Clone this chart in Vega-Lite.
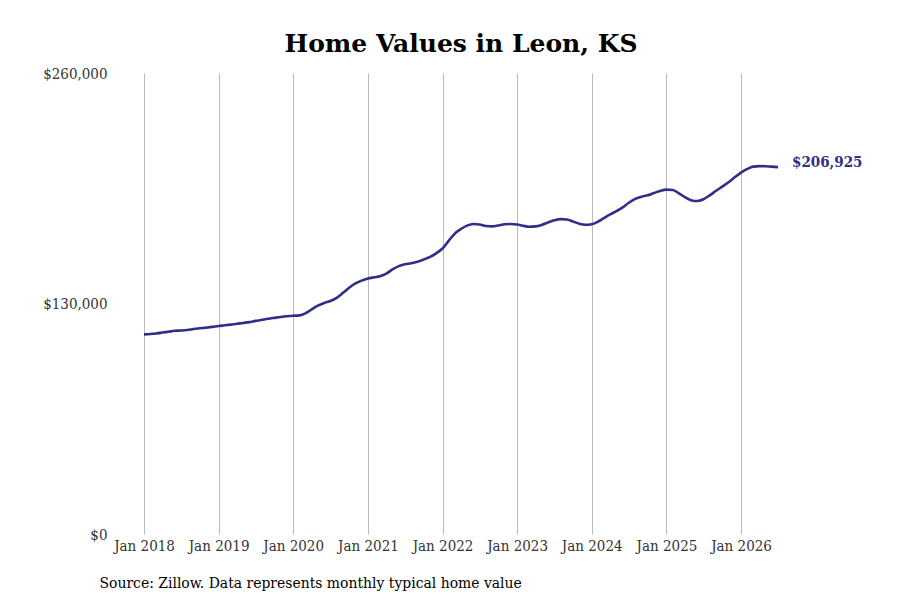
{
  "$schema": "https://vega.github.io/schema/vega-lite/v6.json",
  "autosize": "none",
  "width": 634,
  "height": 461,
  "padding": {"left": 144, "top": 73, "right": 122, "bottom": 66},
  "background": "white",
  "title": {
    "text": "Home Values in Leon, KS",
    "font": "DejaVu Serif",
    "fontSize": 25,
    "fontWeight": "bold",
    "color": "#000000",
    "anchor": "middle",
    "offset": 9
  },
  "data": {
    "values": [
      {"date": "2018-01-01", "value": 112600}, {"date": "2018-02-01", "value": 112800}, {"date": "2018-03-01", "value": 113100}, {"date": "2018-04-01", "value": 113600},
      {"date": "2018-05-01", "value": 114100}, {"date": "2018-06-01", "value": 114600}, {"date": "2018-07-01", "value": 114800}, {"date": "2018-08-01", "value": 115100},
      {"date": "2018-09-01", "value": 115600}, {"date": "2018-10-01", "value": 116000}, {"date": "2018-11-01", "value": 116400}, {"date": "2018-12-01", "value": 116800},
      {"date": "2019-01-01", "value": 117300}, {"date": "2019-02-01", "value": 117700}, {"date": "2019-03-01", "value": 118100}, {"date": "2019-04-01", "value": 118600},
      {"date": "2019-05-01", "value": 119000}, {"date": "2019-06-01", "value": 119500}, {"date": "2019-07-01", "value": 120200}, {"date": "2019-08-01", "value": 120800},
      {"date": "2019-09-01", "value": 121400}, {"date": "2019-10-01", "value": 121900}, {"date": "2019-11-01", "value": 122400}, {"date": "2019-12-01", "value": 122800},
      {"date": "2020-01-01", "value": 123100}, {"date": "2020-02-01", "value": 123300}, {"date": "2020-03-01", "value": 124400}, {"date": "2020-04-01", "value": 126700},
      {"date": "2020-05-01", "value": 128800}, {"date": "2020-06-01", "value": 130300}, {"date": "2020-07-01", "value": 131400}, {"date": "2020-08-01", "value": 133200},
      {"date": "2020-09-01", "value": 136000}, {"date": "2020-10-01", "value": 138900}, {"date": "2020-11-01", "value": 141300}, {"date": "2020-12-01", "value": 142900},
      {"date": "2021-01-01", "value": 144100}, {"date": "2021-02-01", "value": 144800}, {"date": "2021-03-01", "value": 145400}, {"date": "2021-04-01", "value": 146800},
      {"date": "2021-05-01", "value": 149200}, {"date": "2021-06-01", "value": 151100}, {"date": "2021-07-01", "value": 152100}, {"date": "2021-08-01", "value": 152700},
      {"date": "2021-09-01", "value": 153600}, {"date": "2021-10-01", "value": 154800}, {"date": "2021-11-01", "value": 156300}, {"date": "2021-12-01", "value": 158300},
      {"date": "2022-01-01", "value": 161000}, {"date": "2022-02-01", "value": 165500}, {"date": "2022-03-01", "value": 169300}, {"date": "2022-04-01", "value": 172000},
      {"date": "2022-05-01", "value": 173900}, {"date": "2022-06-01", "value": 174800}, {"date": "2022-07-01", "value": 174600}, {"date": "2022-08-01", "value": 173700},
      {"date": "2022-09-01", "value": 173500}, {"date": "2022-10-01", "value": 174000}, {"date": "2022-11-01", "value": 174700}, {"date": "2022-12-01", "value": 174800},
      {"date": "2023-01-01", "value": 174600}, {"date": "2023-02-01", "value": 173800}, {"date": "2023-03-01", "value": 173300}, {"date": "2023-04-01", "value": 173500},
      {"date": "2023-05-01", "value": 174300}, {"date": "2023-06-01", "value": 175700}, {"date": "2023-07-01", "value": 176900}, {"date": "2023-08-01", "value": 177600},
      {"date": "2023-09-01", "value": 177400}, {"date": "2023-10-01", "value": 176300}, {"date": "2023-11-01", "value": 175000}, {"date": "2023-12-01", "value": 174400},
      {"date": "2024-01-01", "value": 174700}, {"date": "2024-02-01", "value": 176200}, {"date": "2024-03-01", "value": 178200}, {"date": "2024-04-01", "value": 180300},
      {"date": "2024-05-01", "value": 182100}, {"date": "2024-06-01", "value": 184200}, {"date": "2024-07-01", "value": 186800}, {"date": "2024-08-01", "value": 189000},
      {"date": "2024-09-01", "value": 190200}, {"date": "2024-10-01", "value": 191000}, {"date": "2024-11-01", "value": 192300}, {"date": "2024-12-01", "value": 193500},
      {"date": "2025-01-01", "value": 194200}, {"date": "2025-02-01", "value": 194000}, {"date": "2025-03-01", "value": 192300}, {"date": "2025-04-01", "value": 190000},
      {"date": "2025-05-01", "value": 188300}, {"date": "2025-06-01", "value": 187800}, {"date": "2025-07-01", "value": 188800}, {"date": "2025-08-01", "value": 191000},
      {"date": "2025-09-01", "value": 193600}, {"date": "2025-10-01", "value": 195900}, {"date": "2025-11-01", "value": 198400}, {"date": "2025-12-01", "value": 201200},
      {"date": "2026-01-01", "value": 203800}, {"date": "2026-02-01", "value": 205900}, {"date": "2026-03-01", "value": 207200}, {"date": "2026-04-01", "value": 207500},
      {"date": "2026-05-01", "value": 207400}, {"date": "2026-06-01", "value": 207200}, {"date": "2026-07-01", "value": 206925}
    ]
  },
  "encoding": {
    "x": {
      "field": "date",
      "type": "temporal",
      "scale": {"domain": [{"year": 2018, "month": 1, "date": 1}, {"year": 2026, "month": 7, "date": 1}]},
      "axis": {
        "format": "%b %Y",
        "tickCount": {"interval": "year", "step": 1},
        "grid": true,
        "gridColor": "#bbbbbb",
        "gridWidth": 1,
        "domain": false,
        "ticks": false,
        "labelFlush": false,
        "labelOverlap": false,
        "labelFont": "DejaVu Serif Condensed",
        "labelFontSize": 15,
        "labelColor": "#333333",
        "labelPadding": 4,
        "title": "Source: Zillow. Data represents monthly typical home value",
        "titleFont": "DejaVu Serif Condensed",
        "titleFontSize": 15.5,
        "titleFontWeight": "normal",
        "titleColor": "#000000",
        "titleAnchor": "start",
        "titleAlign": "left",
        "titleX": -45,
        "titleY": 41
      }
    },
    "y": {
      "field": "value",
      "type": "quantitative",
      "scale": {"domain": [0, 260000]},
      "axis": {
        "values": [0, 130000, 260000],
        "format": "$,.0f",
        "grid": false,
        "domain": false,
        "ticks": false,
        "labelFont": "DejaVu Serif Condensed",
        "labelFontSize": 15,
        "labelColor": "#333333",
        "labelPadding": 37,
        "title": null
      }
    }
  },
  "layer": [
    {
      "mark": {"type": "line", "color": "#312e8a", "strokeWidth": 2.6, "interpolate": "monotone"}
    },
    {
      "transform": [{"filter": "datum.value === 206925"}],
      "mark": {"type": "text", "align": "left", "baseline": "middle", "dx": 14, "dy": -5, "font": "DejaVu Serif Condensed", "fontSize": 15, "fontWeight": "bold", "color": "#312e8a"},
      "encoding": {"text": {"field": "value", "type": "quantitative", "format": "$,.0f"}}
    }
  ],
  "config": {"view": {"stroke": null}}
}
